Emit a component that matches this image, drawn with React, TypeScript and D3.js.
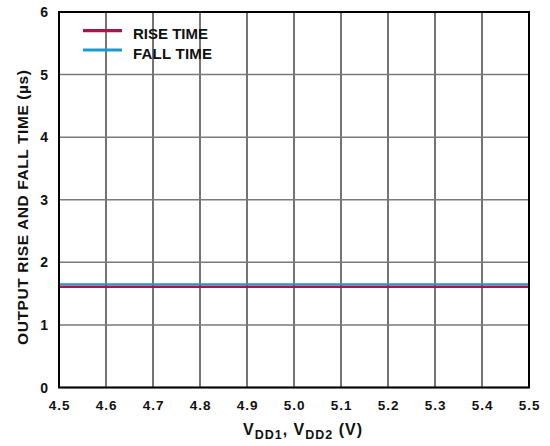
import React from "react";
import * as d3 from "d3";

const xTicks = [4.5, 4.6, 4.7, 4.8, 4.9, 5.0, 5.1, 5.2, 5.3, 5.4, 5.5];
const yTicks = [0, 1, 2, 3, 4, 5, 6];
const supplyVoltage = [4.5, 5.5];
const riseTime = [1.61, 1.61];
const fallTime = [1.65, 1.65];

const W = 550;
const H = 446;
const M = { left: 59, right: 21, top: 12, bottom: 58.5 };
const FONT = "'Liberation Sans', Arial, sans-serif";
const RED = "#a3174a";
const BLUE = "#1a9bd0";

export default function App() {
  const x = d3.scaleLinear().domain([4.5, 5.5]).range([M.left, W - M.right]);
  const y = d3.scaleLinear().domain([0, 6]).range([H - M.bottom, M.top]);
  const line = d3
    .line<number>()
    .x((_, i) => x(supplyVoltage[i]))
    .y((d) => y(d));

  return (
    <svg
      width={W}
      height={H}
      style={{ position: "fixed", left: 0, top: 0, background: "#fff" }}
      fontFamily={FONT}
      fill="#111"
    >
      {xTicks.map((t) => (
        <line key={"vx" + t} x1={x(t)} x2={x(t)} y1={y(6)} y2={y(0)} stroke="#2a2a2a" strokeWidth={1.3} />
      ))}
      {yTicks.map((t) => (
        <line key={"hy" + t} x1={x(4.5)} x2={x(5.5)} y1={y(t)} y2={y(t)} stroke="#7a7a7a" strokeWidth={1.5} />
      ))}
      <path d={line(fallTime) || ""} fill="none" stroke={BLUE} strokeWidth={2.2} />
      <path d={line(riseTime) || ""} fill="none" stroke={RED} strokeWidth={2.4} />
      <rect x={x(4.5)} y={y(6)} width={x(5.5) - x(4.5)} height={y(0) - y(6)} fill="none" stroke="#000" strokeWidth={2} />

      {xTicks.map((t) => (
        <text key={"xt" + t} x={x(t) + 0.6} y={409.5} textAnchor="middle" fontSize={13.5} fontWeight="bold" letterSpacing={1}>
          {t.toFixed(1)}
        </text>
      ))}
      {yTicks.map((t) => (
        <text key={"yt" + t} x={48} y={y(t) + 5} textAnchor="end" fontSize={14} fontWeight="bold">
          {t}
        </text>
      ))}

      <line x1={83} x2={122} y1={30.7} y2={30.7} stroke={RED} strokeWidth={3.2} />
      <text x={133} y={39} fontSize={15} fontWeight="bold" textLength={75} lengthAdjust="spacing">RISE TIME</text>
      <line x1={83} x2={122} y1={50} y2={50} stroke={BLUE} strokeWidth={3.2} />
      <text x={133} y={58.5} fontSize={15} fontWeight="bold" textLength={79} lengthAdjust="spacing">FALL TIME</text>

      <text x={243} y={435} fontSize={16} fontWeight="bold" textLength={119} lengthAdjust="spacing">
        V<tspan fontSize={12.5} dy={4}>DD1</tspan>
        <tspan dy={-4}>, V</tspan>
        <tspan fontSize={12.5} dy={4}>DD2</tspan>
        <tspan dy={-4}> (V)</tspan>
      </text>
      <text
        transform={`translate(27.5,207.5) rotate(-90)`}
        textAnchor="middle"
        fontSize={15.5}
        fontWeight="bold"
        textLength={275}
        lengthAdjust="spacing"
      >
        OUTPUT RISE AND FALL TIME (µs)
      </text>
    </svg>
  );
}
